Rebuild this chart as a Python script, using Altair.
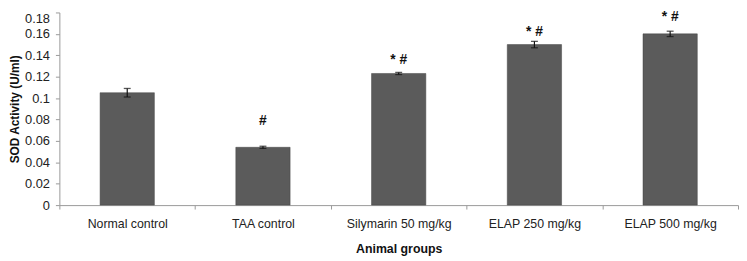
import altair as alt
import pandas as pd

groups = ["Normal control", "TAA control", "Silymarin 50 mg/kg", "ELAP 250 mg/kg", "ELAP 500 mg/kg"]
sod = [0.105, 0.054, 0.123, 0.150, 0.160]
err = [0.004, 0.001, 0.001, 0.003, 0.0025]
marks = ["", "#", "* #", "* #", "* #"]
mark_y = [None, 0.079, 0.136, 0.162, 0.176]
y_ticks = [0, 0.02, 0.04, 0.06, 0.08, 0.1, 0.12, 0.14, 0.16, 0.18]

df = pd.DataFrame({"group": groups, "sod": sod, "err": err, "mark": marks, "mark_y": mark_y})
df["lo"] = df["sod"] - df["err"]
df["hi"] = df["sod"] + df["err"]

FONT = "Liberation Sans"
YTITLE = "SOD Activity (U/ml)"

x = alt.X("group:N", sort=groups, title="Animal groups",
          scale=alt.Scale(paddingInner=0, paddingOuter=0),
          axis=alt.Axis(labelAngle=0, tickBand="extent", tickSize=4, labelPadding=9,
                        titlePadding=12, domainColor="#999999", tickColor="#999999",
                        labelFontSize=12.5, titleFontSize=12.5, labelColor="#222222",
                        titleColor="#111111", labelFont=FONT, titleFont=FONT,
                        titleFontWeight="bold"))

yaxis = alt.Axis(values=y_ticks, labelOverlap=False,
                 labelBaseline={"condition": {"test": "datum.value >= 0.179", "value": "top"},
                                "value": "middle"},
                 format=".2~f", grid=False, tickSize=4, labelPadding=6,
                 titlePadding=3, domainColor="#999999", tickColor="#999999",
                 labelFontSize=13, titleFontSize=12, labelColor="#222222",
                 titleColor="#111111", labelFont=FONT, titleFont=FONT,
                 titleFontWeight="bold")
yscale = alt.Scale(domain=[0, 0.18], nice=False)


def yenc(field):
    return alt.Y(field, type="quantitative", title=YTITLE, scale=yscale, axis=yaxis)


base = alt.Chart(df)

bars = base.mark_bar(color="#5b5b5b", width=alt.RelativeBandSize(0.4),
                     stroke="#444444", strokeWidth=0.5).encode(x=x, y=yenc("sod"))

rule = base.mark_rule(color="#111111", strokeWidth=1.2).encode(
    x=x, y=yenc("lo"), y2="hi:Q")
cap_lo = base.mark_tick(color="#111111", thickness=1.3, size=7).encode(x=x, y=yenc("lo"))
cap_hi = base.mark_tick(color="#111111", thickness=1.3, size=7).encode(x=x, y=yenc("hi"))

txt = base.transform_filter("datum.mark != ''").mark_text(
    font=FONT, fontSize=14, fontWeight="bold", color="#111111", baseline="middle").encode(
    x=x, y=yenc("mark_y"), text="mark:N")

chart = alt.layer(bars, rule, cap_lo, cap_hi, txt).properties(
    width=687, height=195,
    padding={"left": 0, "top": 0, "right": 0, "bottom": 0},
).configure(background="white").configure_view(strokeWidth=0)

chart.save("out.html", embed_options={"renderer": "svg", "actions": False})
